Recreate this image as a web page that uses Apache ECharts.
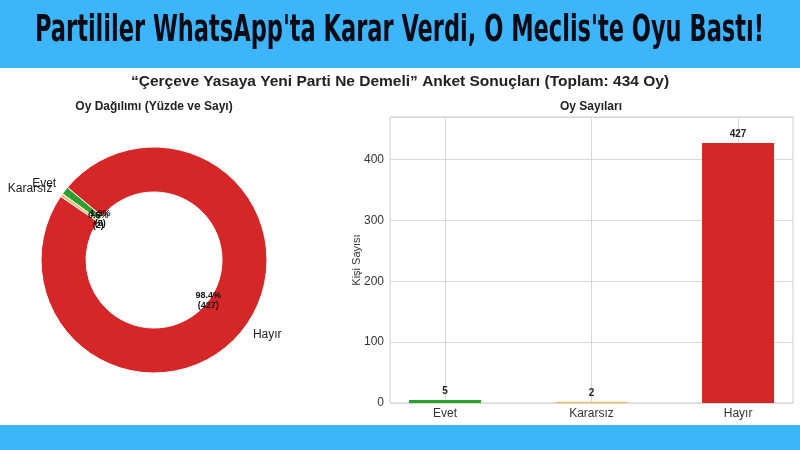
<!DOCTYPE html>
<html>
<head>
<meta charset="utf-8">
<script src="https://cdn.jsdelivr.net/npm/echarts@6/dist/echarts.min.js"></script>
<style>
html,body{margin:0;padding:0;background:#fff;}
#chart{width:800px;height:450px;}
</style>
</head>
<body>
<div id="chart"></div>
<script>
const bannerTitle = "Partililer WhatsApp'ta Karar Verdi, O Meclis'te Oyu Bastı!";
const mainTitle = "“Çerçeve Yasaya Yeni Parti Ne Demeli” Anket Sonuçları (Toplam: 434 Oy)";
const pieTitle = "Oy Dağılımı (Yüzde ve Sayı)";
const barTitle = "Oy Sayıları";
const yAxisName = "Kişi Sayısı";
const categories = ["Evet", "Kararsız", "Hayır"];
const votes = [5, 2, 427];
const colors = ["#2ca02c", "#f5b971", "#d62728"];
const yTicks = [0, 100, 200, 300, 400];

const total = votes.reduce((a, b) => a + b, 0);
const percentText = votes.map(v => (v / total * 100).toFixed(1) + "%");

// measure banner text to fit width
const bannerFont = 'bold 38px "DejaVu Sans Condensed", "Liberation Sans Narrow", sans-serif';
const cv = document.createElement('canvas').getContext('2d');
cv.font = bannerFont;
const bannerW = cv.measureText(bannerTitle).width;
const bannerScale = 729 / bannerW;

const chart = echarts.init(document.getElementById('chart'), null, {renderer: 'canvas'});

const pieCenter = [154, 260];

const option = {
  backgroundColor: '#ffffff',
  animation: false,
  graphic: [
    {type: 'rect', shape: {x: 0, y: 0, width: 800, height: 68}, style: {fill: '#3db5fb'}, silent: true, z: -10},
    {type: 'rect', shape: {x: 0, y: 425, width: 800, height: 25}, style: {fill: '#3db5fb'}, silent: true, z: -10},
    {type: 'text', x: 399.5, y: 31, scaleX: bannerScale, scaleY: 1, silent: true,
      style: {text: bannerTitle, font: bannerFont, fill: '#0b0b16', textAlign: 'center', textVerticalAlign: 'middle'}},
    {type: 'text', x: 400, y: 82, silent: true,
      style: {text: mainTitle, font: 'bold 15.5px "Liberation Sans", Arial, sans-serif', fill: '#222', textAlign: 'center', textVerticalAlign: 'middle'}},
    {type: 'text', x: 154, y: 107, silent: true,
      style: {text: pieTitle, font: 'bold 12px "Liberation Sans", Arial, sans-serif', fill: '#222', textAlign: 'center', textVerticalAlign: 'middle'}},
    {type: 'text', x: 591, y: 107, silent: true,
      style: {text: barTitle, font: 'bold 12px "Liberation Sans", Arial, sans-serif', fill: '#222', textAlign: 'center', textVerticalAlign: 'middle'}}
  ],
  grid: {left: 390, right: 7, top: 117, bottom: 47, show: true, borderColor: '#cccccc', borderWidth: 1, backgroundColor: '#fff'},
  xAxis: {
    type: 'value', min: -0.375, max: 2.375,
    axisLine: {show: false}, axisTick: {show: false, customValues: [0, 1, 2]},
    splitLine: {show: false},
    axisLabel: {customValues: [0, 1, 2], formatter: v => categories[Math.round(v)] || '', color: '#333', fontSize: 12, fontFamily: 'Liberation Sans, Arial, sans-serif', margin: 5}
  },
  yAxis: {
    type: 'value', min: 0, max: 469.7, interval: 100,
    name: yAxisName, nameLocation: 'middle', nameGap: 28, nameRotate: 90, nameMoveOverlap: false,
    nameTextStyle: {color: '#333', fontSize: 11, fontFamily: 'Liberation Sans, Arial, sans-serif'},
    axisLine: {show: false}, axisTick: {show: false},
    splitLine: {show: true, lineStyle: {color: '#d9d9d9', width: 1}},
    axisLabel: {color: '#333', fontSize: 12, fontFamily: 'Liberation Sans, Arial, sans-serif', margin: 6, showMaxLabel: false,
      formatter: v => yTicks.indexOf(v) >= 0 ? String(v) : ''}
  },
  series: [
    {
      type: 'line', data: [], z: 0, silent: true,
      markLine: {
        silent: true, symbol: 'none', z: 0, animation: false,
        label: {show: false},
        lineStyle: {color: '#d9d9d9', type: 'solid', width: 1},
        data: categories.map((c, i) => ({xAxis: i}))
      }
    },
    {
      type: 'bar', z: 3, barWidth: 72,
      data: votes.map((v, i) => ({value: [i, v], itemStyle: {color: colors[i]}})),
      label: {show: true, position: 'top', distance: 4, formatter: p => String(p.value[1]), fontWeight: 'bold', fontSize: 10, color: '#222', fontFamily: 'Liberation Sans, Arial, sans-serif'}
    },
    {
      type: 'pie', center: pieCenter, radius: [68, 113], startAngle: 140, clockwise: false,
      avoidLabelOverlap: false, silent: true, labelLayout: {hideOverlap: false},
      itemStyle: {borderColor: '#ffffff', borderWidth: 1},
      label: {show: true, position: 'outside', formatter: '{b}', color: '#222', fontSize: 12, fontFamily: 'Liberation Sans, Arial, sans-serif', distanceToLabelLine: 0},
      labelLine: {show: false, length: 11, length2: 0},
      data: categories.map((c, i) => ({name: c, value: votes[i], itemStyle: {color: colors[i]}}))
    },
    {
      type: 'pie', center: pieCenter, radius: [0, 130], startAngle: 140, clockwise: false,
      avoidLabelOverlap: false, silent: true, z: 5, labelLayout: {hideOverlap: false},
      itemStyle: {color: 'rgba(0,0,0,0)', borderWidth: 0},
      label: {show: true, position: 'inside', formatter: p => percentText[p.dataIndex] + '\n(' + votes[p.dataIndex] + ')',
        color: '#111', fontSize: 9, fontWeight: 'bold', lineHeight: 10, fontFamily: 'Liberation Sans, Arial, sans-serif'},
      labelLine: {show: false},
      data: categories.map((c, i) => ({name: c, value: votes[i]}))
    }
  ]
};
chart.setOption(option);
</script>
</body>
</html>
